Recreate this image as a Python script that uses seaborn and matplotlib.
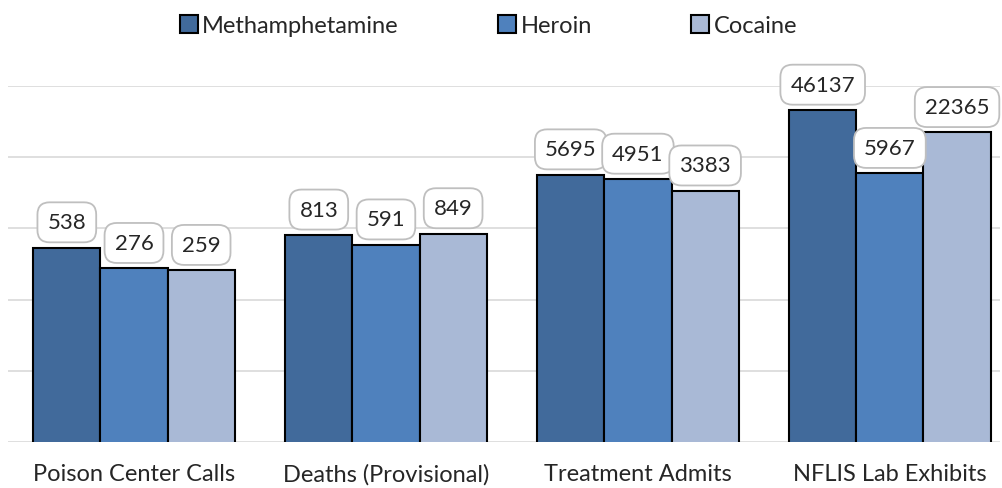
import numpy as np
import pandas as pd
import seaborn as sns
import matplotlib.pyplot as plt

categories = ['Poison Center Calls', 'Deaths (Provisional)', 'Treatment Admits', 'NFLIS Lab Exhibits']
drugs = ['Methamphetamine', 'Heroin', 'Cocaine']
meth = [538, 813, 5695, 46137]
heroin = [276, 591, 4951, 5967]
cocaine = [259, 849, 3383, 22365]
colors = ['#416A9B', '#4F81BD', '#A9B9D6']

df = pd.DataFrame({
    'category': categories * 3,
    'drug': [d for d in drugs for _ in categories],
    'value': meth + heroin + cocaine,
})

sns.set_style('white')
plt.rcParams['font.family'] = ['Lato', 'DejaVu Sans']

fig = plt.figure(figsize=(10.03, 4.89), dpi=100)
ax = fig.add_axes([0.008, 0.094, 0.989, 0.728])

sns.barplot(data=df, x='category', y='value', hue='drug', palette=colors,
            width=0.80, edgecolor='black', linewidth=1.5, saturation=1,
            ax=ax, zorder=3)
ax.set_yscale('log')
ax.set_ylim(1, 100000)
ax.set_xlim(-0.5, 3.437)
ax.yaxis.grid(True, color='#D9D9D9', linewidth=1.2, zorder=0)
ax.set_axisbelow(True)
ax.set_yticks([1, 10, 100, 1000, 10000, 100000])
ax.minorticks_off()
ax.set_yticklabels([])
ax.tick_params(axis='y', length=0)
ax.tick_params(axis='x', length=0, labelsize=17, pad=15)
ax.set_xlabel('')
ax.set_ylabel('')
for s in ax.spines.values():
    s.set_visible(False)

for cont in ax.containers:
    ax.bar_label(cont, fmt='%d', padding=11, fontsize=16,
                 bbox=dict(boxstyle='round,pad=0.45,rounding_size=0.55', fc='white',
                           ec='#BFBFBF', lw=1.3))

handles, labels = ax.get_legend_handles_labels()
ax.get_legend().remove()
fig.legend(handles, labels, loc='upper center', bbox_to_anchor=(0.487, 1.01), ncol=3,
           frameon=False, fontsize=17, handlelength=0.75, handleheight=0.75,
           handletextpad=0.2, columnspacing=4.2)

fig.savefig('out.png', dpi=100)
